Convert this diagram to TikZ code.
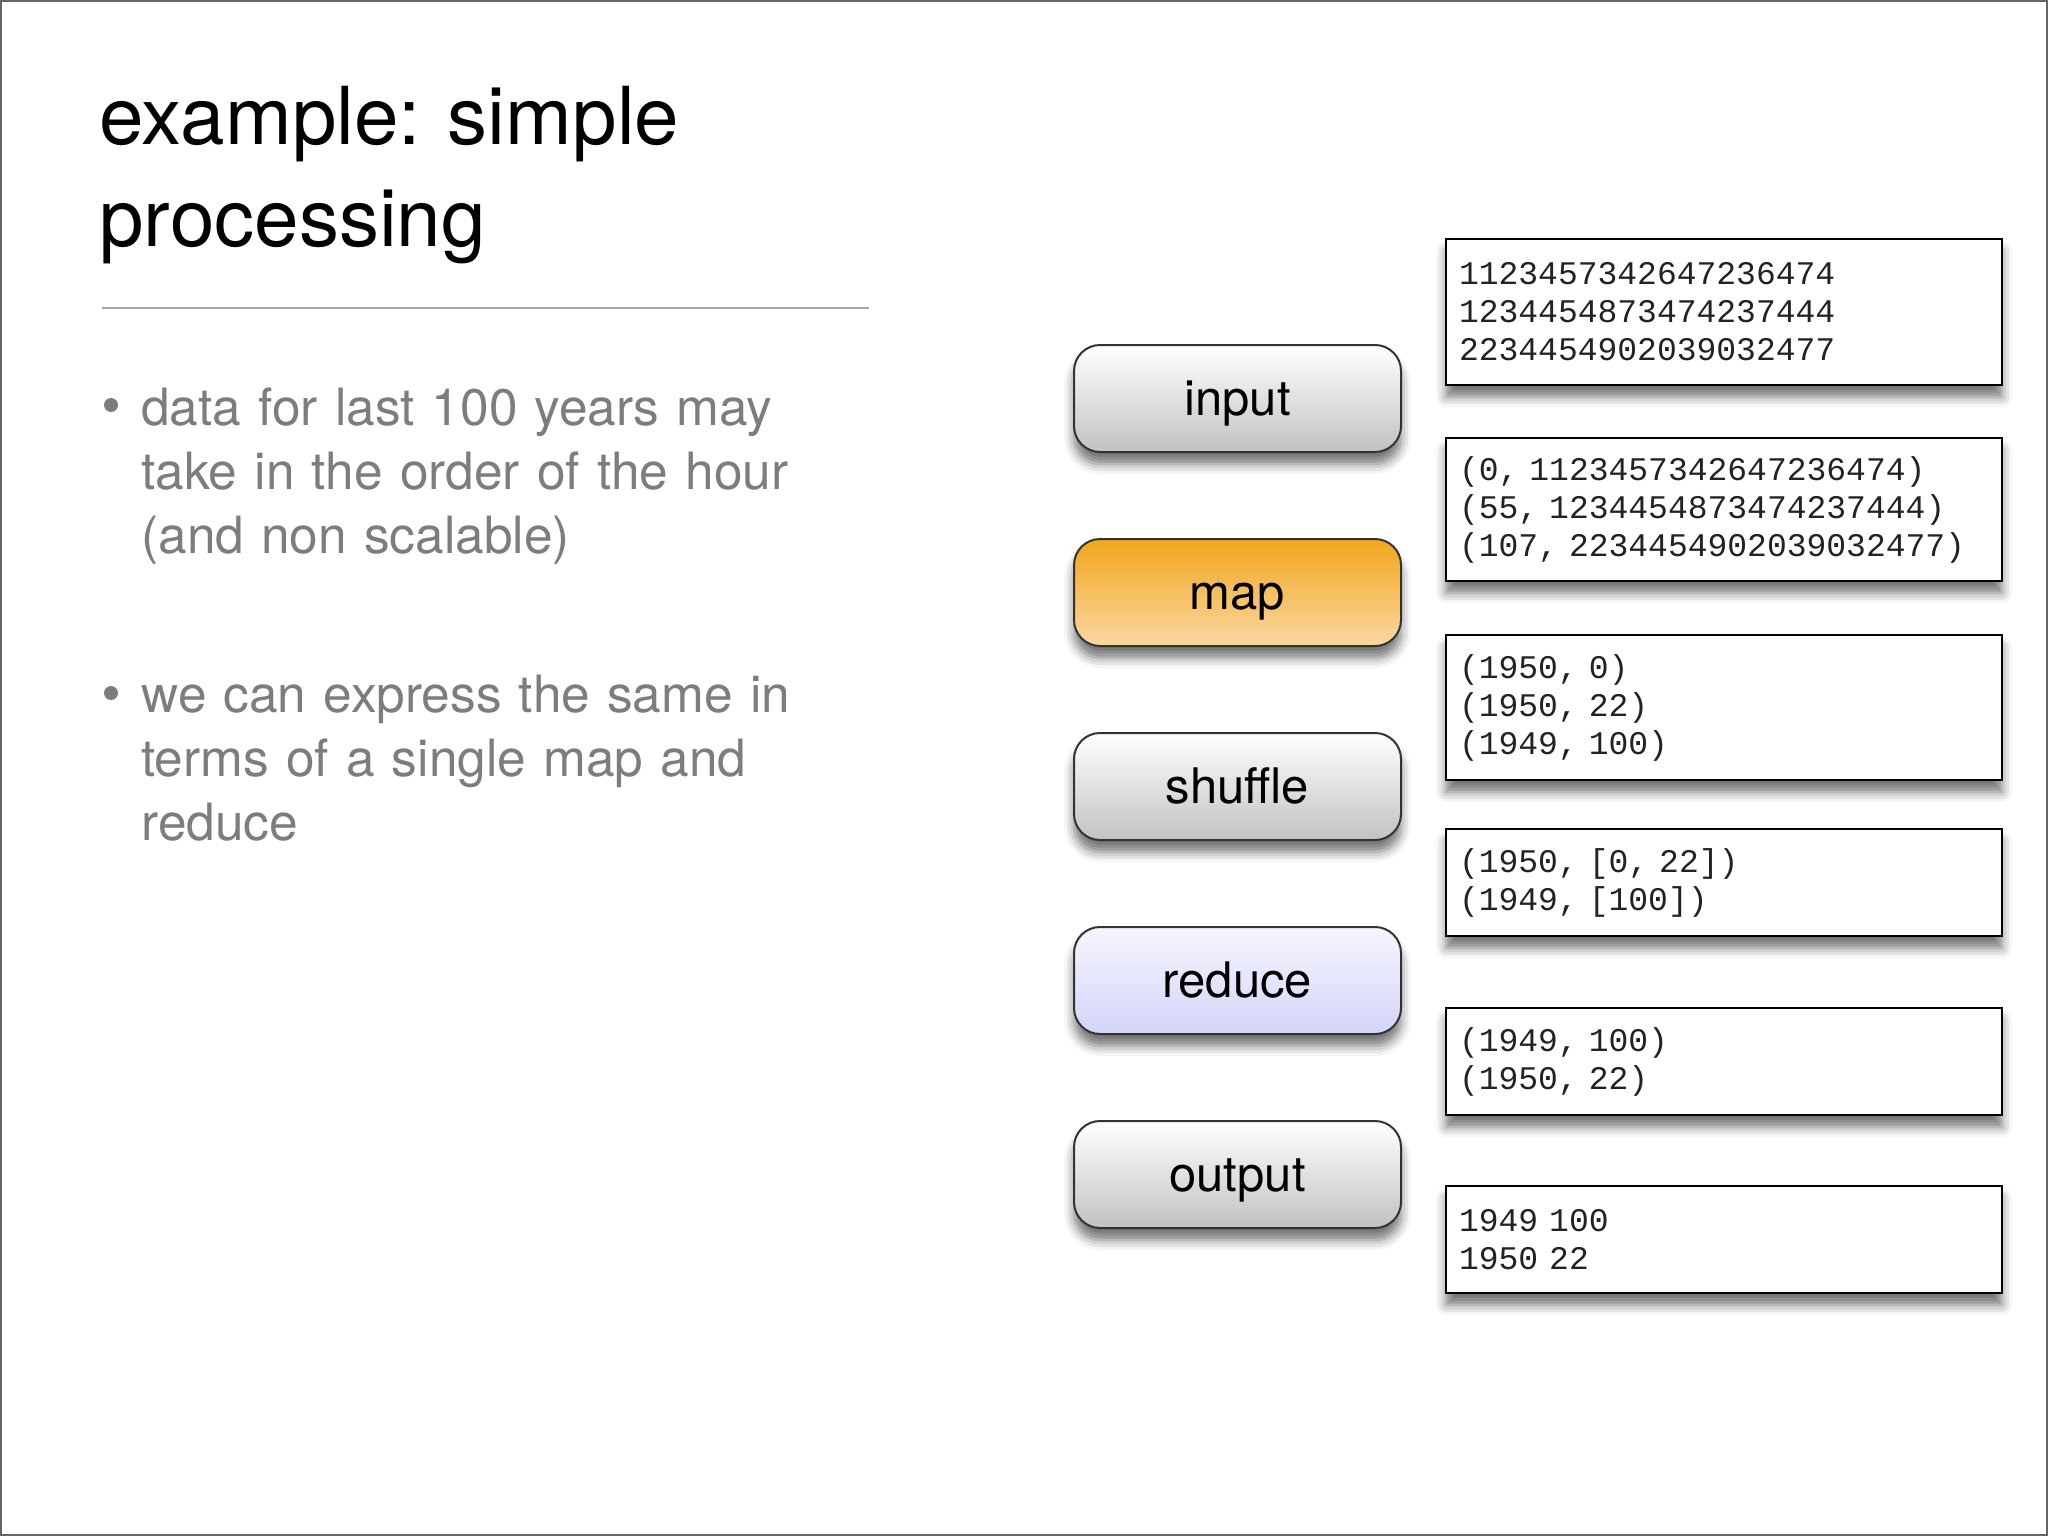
\documentclass[tikz,border=0pt]{standalone}
\usepackage{fontspec}
\setmainfont{TeX Gyre Heros}
\setmonofont{Liberation Mono}
\usetikzlibrary{positioning, shadows.blur}
\frenchspacing

\definecolor{bullettext}{RGB}{125,125,125}
\definecolor{maptop}{RGB}{242,166,30}
\definecolor{mapbottom}{RGB}{250,215,162}
\definecolor{reducetop}{RGB}{246,246,255}
\definecolor{reducebottom}{RGB}{212,212,250}
\definecolor{boxtext}{RGB}{34,34,34}

\begin{document}
\begin{tikzpicture}[x=0.5pt, y=-0.5pt, node distance=42.5pt,
    roundedbtn/.style={rectangle, draw=black!80, line width=1pt, rounded corners=13pt, minimum width=163.5pt, minimum height=53.5pt, top color=white, bottom color=black!24, text height=17pt, text depth=0pt, font=\fontsize{24.5}{28}\selectfont, blur shadow={shadow xshift=0pt, shadow yshift=-6pt, shadow blur radius=5pt, shadow opacity=55}},
    databox/.style={rectangle, draw=black, line width=1.3pt, fill=white, text width=265pt, inner xsep=6.5pt, align=left, text=boxtext, font=\ttfamily\fontsize{16.5}{19}\selectfont, blur shadow={shadow xshift=0pt, shadow yshift=-6pt, shadow blur radius=5pt, shadow opacity=55}},
    itemtext/.style={anchor=base west, inner sep=0pt, text width=380pt, align=left, text=bullettext, font=\fontsize{25.7}{32}\selectfont},
    bullet/.style={circle, fill=bullettext, inner sep=0pt, minimum size=7pt}]

    \useasboundingbox (0,0) rectangle (2048,1536);
    \draw[black!60, line width=1pt] (1,1) rectangle (2047,1535);

    \node [anchor=base west, inner sep=0pt, text width=600pt, align=left, font=\fontsize{40}{51}\selectfont] (title) at (99,144) {example: simple\\processing};
    \draw[black!35, line width=1pt] (102,308) -- (869,308);

    \node [bullet] (dot1) at (111,405) {};
    \node [itemtext] (item1) at (141,425) {data for last 100 years may\\take in the order of the hour\\(and non scalable)};
    \node [bullet] (dot2) at (111,693) {};
    \node [itemtext] (item2) at (141,712) {we can express the same in\\terms of a single map and\\reduce};

    \node [roundedbtn] (input) at (1237.5,398.5) {input};
    \node [roundedbtn, below = of input, top color=maptop, bottom color=mapbottom] (map) {map};
    \node [roundedbtn, below = of map] (shuffle) {shuffle};
    \node [roundedbtn, below = of shuffle, top color=reducetop, bottom color=reducebottom] (reduce) {reduce};
    \node [roundedbtn, below = of reduce] (output) {output};

    \node [databox, minimum height=73pt] (lines) at (1724,312) {1123457342647236474\\1234454873474237444\\2234454902039032477};
    \node [databox, minimum height=71.5pt] (offsets) at (1724,509.5) {(0, 1123457342647236474)\\(55, 1234454873474237444)\\(107, 2234454902039032477)};
    \node [databox, minimum height=72.5pt] (pairs) at (1724,707.5) {(1950, 0)\\(1950, 22)\\(1949, 100)};
    \node [databox, minimum height=53.5pt] (groups) at (1724,882.5) {(1950, [0, 22])\\(1949, [100])};
    \node [databox, minimum height=53.5pt] (maxima) at (1724,1061.5) {(1949, 100)\\(1950, 22)};
    \node [databox, minimum height=53.5pt] (result) at (1724,1239.5) {1949 100\\1950 22};

\end{tikzpicture}
\end{document}
